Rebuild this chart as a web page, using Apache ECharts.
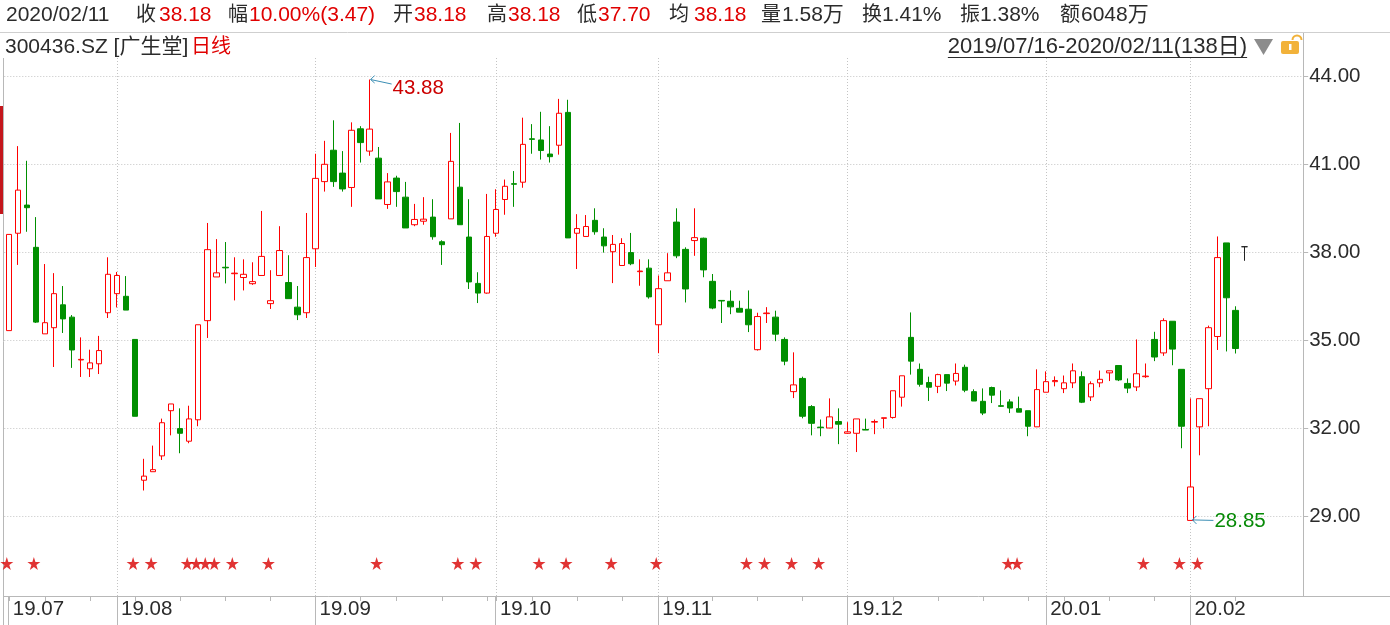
<!DOCTYPE html>
<html><head><meta charset="utf-8">
<script src="https://cdn.jsdelivr.net/npm/echarts@6/dist/echarts.min.js"></script>
<style>html,body{margin:0;padding:0;background:#fff;overflow:hidden}#c{width:1390px;height:625px}</style>
</head><body><div id="c"></div>
<script>
// ---------- trading days (categories) ----------
const days2019_07 = [16,17,18,19,22,23,24,25,26,29,30,31];
const days2019_08 = [1,2,5,6,7,8,9,12,13,14,15,16,19,20,21,22,23,26,27,28,29,30];
const days2019_09 = [2,3,4,5,6,9,10,11,12,16,17,18,19,20,23,24,25,26,27,30];
const days2019_10 = [8,9,10,11,14,15,16,17,18,21,22,23,24,25,28,29,30,31];
const days2019_11 = [1,4,5,6,7,8,11,12,13,14,15,18,19,20,21,22,25,26,27,28,29];
const days2019_12 = [2,3,4,5,6,9,10,11,12,13,16,17,18,19,20,23,24,25,26,27,30,31];
const days2020_01 = [2,3,6,7,8,9,10,13,14,15,16,17,20,21,22,23];
const days2020_02 = [3,4,5,6,7,10,11];
const monthLabels = ['19.07','19.08','19.09','19.10','19.11','19.12','20.01','20.02'];

// ---------- OHLC ----------
const opens = [35.32,38.64,39.60,38.16,35.21,35.42,36.20,35.78,34.32,34.02,
34.19,35.93,36.58,36.49,35.02,30.22,30.51,31.05,32.59,31.98,
31.55,32.28,35.66,37.15,37.48,37.26,37.13,36.92,37.20,36.24,
37.20,36.96,36.12,35.93,38.11,40.40,41.47,40.69,40.20,42.20,
41.44,41.20,39.62,40.52,39.87,38.93,39.05,39.19,38.35,39.13,
40.21,38.51,36.93,36.60,38.64,39.79,40.33,40.38,41.86,41.82,
41.34,41.64,42.76,38.64,38.53,39.08,38.51,38.01,37.54,37.98,
37.33,37.45,35.52,37.02,39.02,38.09,38.39,38.47,37.00,36.35,
36.32,36.08,36.05,34.67,35.90,35.78,35.02,33.24,33.69,32.73,
32.03,32.00,32.22,31.82,31.82,31.95,32.20,32.33,32.36,33.05,
35.09,34.00,33.55,33.42,33.82,33.60,34.07,33.24,32.91,33.38,
32.76,32.89,32.66,32.59,32.04,33.22,33.58,33.34,33.54,33.75,
33.06,33.54,33.88,34.13,33.52,33.40,33.75,35.02,34.56,35.64,
34.00,28.85,32.04,33.34,35.12,38.31,36.01,38.18];
const closes = [38.60,40.11,39.51,35.61,35.59,36.58,35.72,34.66,34.34,34.22,
34.64,37.24,37.20,36.02,32.40,30.36,30.58,32.18,32.82,31.82,
32.31,35.52,38.08,37.29,37.46,37.28,37.24,36.99,37.85,36.34,
38.05,36.41,35.86,37.81,40.51,40.99,40.40,40.15,42.15,41.73,
42.19,39.81,40.39,40.06,38.82,39.11,39.12,38.52,38.25,41.09,
38.93,36.98,36.60,38.53,39.45,40.24,40.31,41.67,41.84,41.46,
41.25,42.73,38.48,38.80,38.87,38.69,38.21,38.26,38.29,37.60,
37.35,36.47,36.75,37.29,37.87,36.74,38.49,37.39,36.09,36.33,
36.13,35.95,35.52,35.80,35.92,35.20,34.28,33.47,32.40,32.16,
32.01,32.38,32.13,31.87,32.31,31.93,32.22,32.35,33.27,33.78,
34.28,33.49,33.39,33.82,33.53,33.86,33.29,32.92,32.51,33.12,
32.74,32.68,32.54,32.06,33.31,33.58,33.62,33.54,33.95,32.88,
33.51,33.66,33.95,33.64,33.36,33.85,33.77,34.42,35.66,34.69,
32.06,29.99,33.00,35.42,37.81,36.44,34.71,38.18];
const lows = [35.32,37.56,38.69,35.58,35.21,34.08,35.24,34.05,33.74,33.74,
33.84,35.75,36.11,36.02,32.40,29.87,30.51,30.91,31.75,31.14,
31.48,32.06,35.07,37.15,36.93,36.35,36.69,36.88,37.20,36.06,
37.20,36.41,35.68,35.75,37.49,40.06,40.22,40.06,39.54,41.05,
41.28,39.81,39.47,39.54,38.82,38.88,38.93,38.42,37.56,39.13,
38.93,36.74,36.26,36.58,38.52,39.27,39.54,40.19,41.35,41.15,
41.05,41.32,38.48,37.42,38.53,38.59,37.98,36.94,37.54,37.55,
36.85,36.41,34.55,37.02,37.79,36.28,37.87,37.14,36.05,35.58,
35.88,35.95,35.27,34.64,35.58,34.96,34.14,33.02,32.33,31.75,
31.72,32.00,31.45,31.80,31.18,31.93,31.79,31.99,32.32,32.73,
33.82,33.41,32.92,33.19,33.26,33.45,33.22,32.92,32.44,32.85,
32.72,32.51,32.54,31.72,32.04,33.22,33.42,33.19,33.36,32.85,
32.92,33.39,33.60,33.60,33.19,33.26,33.71,34.28,34.46,34.14,
31.31,28.85,31.07,32.06,34.66,34.61,34.54,37.70];
const highs = [38.60,41.61,41.11,39.19,37.59,37.28,36.84,35.85,35.09,34.67,
35.14,37.82,37.32,37.18,35.02,30.95,31.40,32.32,32.82,32.67,
32.76,35.52,38.99,38.44,38.34,37.82,37.75,37.65,39.40,37.38,
38.88,37.89,36.84,39.33,41.35,41.79,42.49,41.44,42.42,42.29,
43.88,41.58,40.69,40.60,40.39,39.64,39.87,39.80,38.40,42.06,
42.40,39.80,37.31,39.98,40.14,40.47,40.76,42.58,42.36,42.78,
42.29,43.22,43.19,39.29,39.26,39.49,38.81,38.58,38.47,38.65,
37.75,37.75,37.20,37.96,39.49,38.16,39.49,38.49,37.25,36.35,
36.69,36.34,36.69,35.93,36.12,36.00,35.09,34.58,33.75,32.78,
32.29,33.01,32.67,32.20,32.31,32.32,32.29,32.35,33.27,33.78,
35.94,34.20,33.75,33.85,33.82,34.20,34.16,33.32,33.35,33.41,
33.28,32.98,33.07,32.59,34.00,33.93,33.76,33.79,34.20,33.93,
33.59,33.96,33.95,34.13,33.69,35.02,34.20,35.28,35.74,35.64,
34.00,33.01,33.00,35.49,38.53,38.31,36.15,38.18];
const starIdx = [0,3,14,16,20,21,22,23,25,29,41,50,52,59,62,67,72,82,84,87,90,111,112,126,130,132];
const yTicks = [29,32,35,38,41,44];

// header texts
const headDate = '2020/02/11';
const headLabels = ['收','幅','开','高','低','均','量','换','振','额'];
const headValues = ['38.18','10.00%(3.47)','38.18','38.18','37.70','38.18','1.58万','1.41%','1.38%','6048万'];
const headRed = [true,true,true,true,true,true,false,false,false,false];
const titleCode = '300436.SZ [广生堂]';
const titlePeriod = '日线';
const rangeText = '2019/07/16-2020/02/11(138日)';

// ---------- build ----------
const monthList = [['2019/07',days2019_07],['2019/08',days2019_08],['2019/09',days2019_09],['2019/10',days2019_10],
  ['2019/11',days2019_11],['2019/12',days2019_12],['2020/01',days2020_01],['2020/02',days2020_02]];
const dates = [];
monthList.forEach(([ym, ds]) => ds.forEach(d => dates.push(ym + '/' + String(d).padStart(2,'0'))));
const PAD = 6;
const cats = dates.concat(Array.from({length: PAD}, (_, k) => ' '.repeat(k + 1)));

const monthStart = new Map(); const tickSet = new Set();
let prevM = null, prevW = null, mi = 0;
dates.forEach((d, i) => {
  const [y, m, dd] = d.split('/').map(Number);
  const dayNum = Math.floor(Date.UTC(y, m - 1, dd) / 86400000);
  const w = Math.floor((dayNum + 3) / 7);
  const mk = y * 12 + m;
  if (mk !== prevM) { monthStart.set(i, monthLabels[mi++]); tickSet.add(i); }
  if (w !== prevW) tickSet.add(i);
  prevM = mk; prevW = w;
});

const RED = '#ff0000', GREEN = '#008f00', GRIDC = '#c4c4c4', AXIS = '#b8b8b8', TXT = '#2b2b2b';
const FONT = '"Liberation Sans", "Noto Sans CJK SC", sans-serif';
const STAR = 'path://M50,0 L61.2,34.5 L97.6,34.5 L68.2,55.9 L79.4,90.5 L50,69.1 L20.6,90.5 L31.8,55.9 L2.4,34.5 L38.8,34.5 Z';

const last = dates.length - 1;
const kData = dates.map((d, i) => {
  const v = [opens[i], closes[i], lows[i], highs[i]];
  if (i === last) return {value: v, itemStyle: {color: '#222', color0: '#222', borderColor: '#222', borderColor0: '#222', borderColorDoji: '#222'}};
  return v;
});

const chart = echarts.init(document.getElementById('c'), null, {renderer: 'canvas', width: 1390, height: 625});

function T(text, x, y, fill, size, align) {
  return {type: 'text', x: x, y: y, silent: true, z: 10,
    style: {text: text, fill: fill, fontSize: size || 21, fontFamily: FONT,
      align: align || 'left', verticalAlign: 'middle', textAlign: align || 'left', textVerticalAlign: 'middle'}};
}
const G = [];
G.push({type: 'line', silent: true, shape: {x1: 0, y1: 32.5, x2: 1390, y2: 32.5}, style: {stroke: '#cfcfcf', lineWidth: 1}});
G.push({type: 'line', silent: true, shape: {x1: 1303.5, y1: 33, x2: 1303.5, y2: 58}, style: {stroke: AXIS, lineWidth: 1}});
G.push({type: 'line', silent: true, shape: {x1: 1303, y1: 596.5, x2: 1390, y2: 596.5}, style: {stroke: AXIS, lineWidth: 1}});
G.push({type: 'line', silent: true, shape: {x1: 3.5, y1: 58, x2: 3.5, y2: 625}, style: {stroke: AXIS, lineWidth: 1}});
G.push({type: 'rect', silent: true, shape: {x: 0, y: 106, width: 3, height: 108}, style: {fill: '#c4161c'}});
// header row 1
const RED_T = '#e00000';
const labX = [136, 228, 393, 487, 577, 669, 761, 862, 960, 1060];
const valX = [159, 249, 414, 508, 598, 694, 782, 882, 980, 1081];
G.push(T(headDate, 6, 15, TXT));
headLabels.forEach((l, k) => {
  G.push(T(l, labX[k], 15, TXT, 20));
  G.push(T(headValues[k], valX[k], 15, headRed[k] ? RED_T : TXT));
});
// header row 2
G.push(T(titleCode, 5, 47, TXT));
G.push(T(titlePeriod, 191, 47, RED_T, 20));
const cv = document.createElement('canvas').getContext('2d');
cv.font = '22px ' + FONT;
const rw = cv.measureText(rangeText).width;
const rcx = 1097.5;
G.push(T(rangeText, rcx, 47, TXT, 22, 'center'));
G.push({type: 'line', silent: true, shape: {x1: rcx - rw / 2, y1: 57.5, x2: rcx + rw / 2, y2: 57.5}, style: {stroke: TXT, lineWidth: 1}});
G.push({type: 'polygon', silent: true, shape: {points: [[1254, 39], [1273, 39], [1263.5, 55]]}, style: {fill: '#8c8c8c'}});
G.push({type: 'arc', silent: true, shape: {cx: 1297, cy: 40, r: 4.5, startAngle: Math.PI, endAngle: 2 * Math.PI}, style: {stroke: '#f2b23a', lineWidth: 2, fill: null}});
G.push({type: 'rect', silent: true, shape: {x: 1281, y: 41, width: 18, height: 13, r: 2}, style: {fill: '#f2b23a'}});
G.push({type: 'rect', silent: true, shape: {x: 1289, y: 44, width: 2.5, height: 6}, style: {fill: '#fff'}});

const option = {
  animation: false,
  backgroundColor: '#fff',
  grid: {left: 4.3, right: 86.8, top: 58, bottom: 29, containLabel: false, outerBoundsMode: 'none'},
  xAxis: {
    type: 'category', data: cats, boundaryGap: true,
    axisLine: {show: true, lineStyle: {color: AXIS, width: 1}},
    axisTick: {show: true, alignWithLabel: true, length: 5, interval: (i) => tickSet.has(i), lineStyle: {color: AXIS}},
    axisLabel: {show: true, interval: (i) => monthStart.has(i), formatter: (v, i) => monthStart.get(i) || '',
      align: 'left', padding: [0, 0, 0, 4], color: TXT, fontSize: 20.5, fontFamily: FONT, margin: 3},
    splitLine: {show: false}
  },
  yAxis: {
    type: 'value', position: 'right', min: 26.273, max: 44.614,
    axisLine: {show: true, lineStyle: {color: AXIS, width: 1}},
    axisTick: {show: true, length: 5, customValues: yTicks, lineStyle: {color: AXIS}},
    axisLabel: {show: true, customValues: yTicks, formatter: (v) => Number(v).toFixed(2), color: TXT, fontSize: 20.5, fontFamily: FONT, margin: 6},
    splitLine: {show: true, lineStyle: {color: GRIDC, type: [1, 2], width: 1}}
  },
  series: [
    {type: 'candlestick', data: kData, barWidth: 6, z: 2,
      itemStyle: {color: '#ffffff', color0: GREEN, borderColor: RED, borderColor0: GREEN, borderWidth: 1},
      markLine: {silent: true, z: 1, symbol: ['none', 'none'], label: {show: false}, animation: false,
        lineStyle: {color: GRIDC, type: [1, 2], width: 1},
        emphasis: {disabled: true},
        data: Array.from(monthStart.keys()).filter(i => i > 0).map(i => ({xAxis: dates[i]}))}
    },
    {type: 'scatter', data: starIdx.map(i => [i, 27.38]), symbol: STAR, symbolSize: 13, symbolOffset: [-2, 0],
      itemStyle: {color: '#d80000'}, silent: true, z: 3}
  ],
  graphic: G
};
chart.setOption(option);

// annotations and long month ticks (positions from the axes)
const A = [];
const ARROW = '#3c8fb5';
const hiIdx = highs.indexOf(Math.max(...highs));
const loIdx = lows.indexOf(Math.min(...lows));
const ph = chart.convertToPixel({xAxisIndex: 0, yAxisIndex: 0}, [hiIdx, highs[hiIdx]]);
A.push({type: 'line', silent: true, z: 10, shape: {x1: ph[0] + 1, y1: ph[1], x2: ph[0] + 22, y2: ph[1] + 4.5}, style: {stroke: ARROW, lineWidth: 1}});
A.push({type: 'polyline', silent: true, z: 10, shape: {points: [[ph[0] + 5, ph[1] - 4], [ph[0] + 1, ph[1]], [ph[0] + 5, ph[1] + 3.5]]}, style: {stroke: ARROW, lineWidth: 1, fill: null}});
A.push(T(highs[hiIdx].toFixed(2), ph[0] + 23, ph[1] + 8.5, '#cc0000', 20.5));
const pl = chart.convertToPixel({xAxisIndex: 0, yAxisIndex: 0}, [loIdx, lows[loIdx]]);
A.push({type: 'line', silent: true, z: 10, shape: {x1: pl[0] + 2, y1: pl[1] - 0.5, x2: pl[0] + 23, y2: pl[1]}, style: {stroke: ARROW, lineWidth: 1}});
A.push({type: 'polyline', silent: true, z: 10, shape: {points: [[pl[0] + 6, pl[1] - 4.5], [pl[0] + 2, pl[1] - 0.5], [pl[0] + 6, pl[1] + 3.5]]}, style: {stroke: ARROW, lineWidth: 1, fill: null}});
A.push(T(lows[loIdx].toFixed(2), pl[0] + 24, pl[1] + 0.5, '#078a07', 20.5));
const axisY = chart.convertToPixel({yAxisIndex: 0}, 26.273);
Array.from(monthStart.keys()).forEach(i => {
  const x = Math.round(chart.convertToPixel({xAxisIndex: 0}, i) - 0.5) + 0.5;
  A.push({type: 'line', silent: true, shape: {x1: x, y1: axisY, x2: x, y2: 625}, style: {stroke: AXIS, lineWidth: 1}});
});
chart.setOption({graphic: G.concat(A)});
</script>
</body></html>
